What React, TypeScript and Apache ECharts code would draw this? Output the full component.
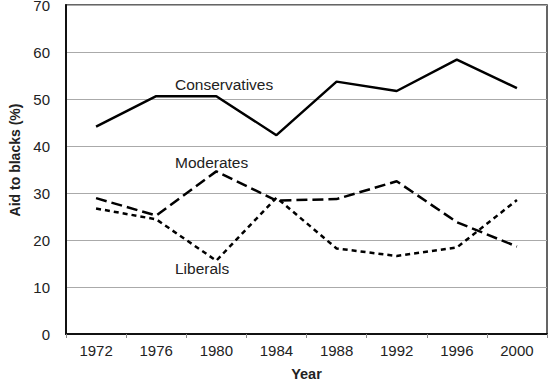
import React, { useEffect, useRef } from "react";
import * as echarts from "echarts";

const years = ["1972", "1976", "1980", "1984", "1988", "1992", "1996", "2000"];
const conservatives = [44.1, 50.6, 50.6, 42.3, 53.7, 51.7, 58.4, 52.3];
const moderates = [28.9, 25.2, 34.6, 28.4, 28.7, 32.5, 23.8, 18.6];
const liberals = [26.7, 24.4, 15.6, 29.0, 18.2, 16.6, 18.4, 28.5];
const seriesNames = ["Conservatives", "Moderates", "Liberals"];
const yTitle = "Aid to blacks (%)";
const xTitle = "Year";

const FONT = "'Liberation Sans', Arial, sans-serif";

export default function App() {
  const ref = useRef<HTMLDivElement>(null);
  useEffect(() => {
    if (!ref.current) return;
    const chart = echarts.init(ref.current, undefined, { renderer: "svg" });
    chart.setOption({
      animation: false,
      backgroundColor: "#ffffff",
      textStyle: { fontFamily: FONT },
      grid: {
        left: 66,
        top: 5,
        width: 481,
        height: 329,
        containLabel: false,
        outerBoundsMode: "none",
        show: true,
        borderColor: "#333",
        borderWidth: 1.5,
        backgroundColor: "transparent",
      },
      xAxis: {
        type: "category",
        data: years,
        boundaryGap: true,
        name: xTitle,
        nameLocation: "middle",
        nameGap: 32,
        nameTextStyle: { fontFamily: FONT, fontSize: 14.5, fontWeight: "bold", color: "#222" },
        axisLine: { lineStyle: { color: "#111", width: 2 } },
        axisTick: { show: true, length: 4, lineStyle: { color: "#888", width: 1 } },
        axisLabel: { fontFamily: FONT, fontSize: 15, color: "#222", margin: 9 },
        splitLine: { show: false },
      },
      yAxis: {
        type: "value",
        min: 0,
        max: 70,
        interval: 10,
        axisLine: { show: true, lineStyle: { color: "#111", width: 2 } },
        axisTick: { show: false },
        axisLabel: { fontFamily: FONT, fontSize: 15, color: "#222", margin: 16 },
        splitLine: { show: true, lineStyle: { color: "#aaa", width: 1.2 } },
      },
      series: [
        {
          name: seriesNames[0],
          type: "line",
          data: conservatives,
          symbol: "none",
          lineStyle: { color: "#000", width: 2.5, type: "solid" },
        },
        {
          name: seriesNames[1],
          type: "line",
          data: moderates,
          symbol: "none",
          lineStyle: { color: "#000", width: 2.5, type: [11, 5] },
        },
        {
          name: seriesNames[2],
          type: "line",
          data: liberals,
          symbol: "none",
          lineStyle: { color: "#000", width: 2.5, type: [5, 4] },
        },
      ],
      graphic: [
        {
          type: "text",
          x: 15,
          y: 160,
          rotation: Math.PI / 2,
          style: {
            text: yTitle,
            fontFamily: FONT,
            fontSize: 14,
            fontWeight: "bold",
            fill: "#222",
            align: "center",
            verticalAlign: "middle",
          },
        },
        {
          type: "text",
          left: 175,
          top: 76,
          style: { text: seriesNames[0], fontFamily: FONT, fontSize: 15.5, fill: "#222" },
        },
        {
          type: "text",
          left: 175,
          top: 154,
          style: { text: seriesNames[1], fontFamily: FONT, fontSize: 15.5, fill: "#222" },
        },
        {
          type: "text",
          left: 175,
          top: 260,
          style: { text: seriesNames[2], fontFamily: FONT, fontSize: 15.5, fill: "#222" },
        },
      ],
    });
    return () => chart.dispose();
  }, []);
  return (
    <div
      ref={ref}
      style={{ position: "fixed", left: 0, top: 0, width: 550, height: 381, background: "#fff" }}
    />
  );
}
